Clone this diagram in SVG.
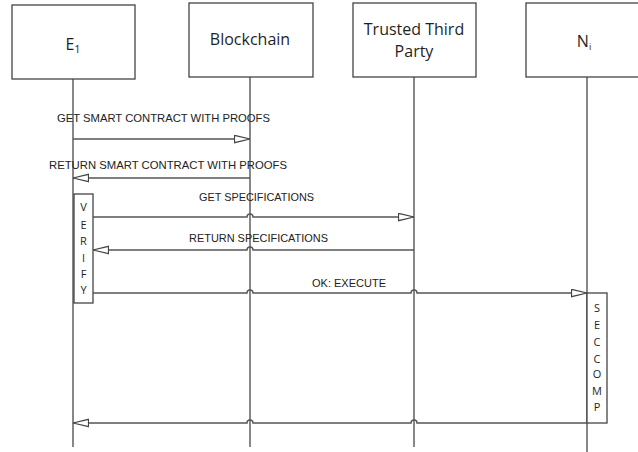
<svg xmlns="http://www.w3.org/2000/svg" width="638" height="452" viewBox="0 0 638 452">
<style>
.box{fill:#fff;stroke:#444;stroke-width:1.3}
.life{stroke:#555;stroke-width:1.4;fill:none}
.msg{stroke:#555;stroke-width:1.4;fill:none}
.title{font-family:"Open Sans","Liberation Sans",sans-serif;font-size:16px;fill:#1f1f1f;text-anchor:middle}
.lbl{font-family:"Liberation Sans",sans-serif;font-size:11px;fill:#222}
.act{font-family:"Open Sans","Liberation Sans",sans-serif;font-size:11px;fill:#1f1f1f;text-anchor:middle}
</style>
<defs>
<marker id="arr" markerUnits="userSpaceOnUse" markerWidth="18" markerHeight="10" refX="16" refY="4.5" orient="auto-start-reverse">
<path d="M0.5,0.8 L16,4.5 L0.5,8.2 Z" fill="#fff" stroke="#444" stroke-width="1.2"/>
</marker>
</defs>
<g id="lifelines">
<line class="life" x1="73" y1="79" x2="73" y2="447"/>
<line class="life" x1="250" y1="77" x2="250" y2="447"/>
<line class="life" x1="414" y1="77" x2="414" y2="447"/>
<line class="life" x1="587" y1="77" x2="587" y2="452"/>
</g>
<g id="E1">
<rect class="box" x="12" y="5" width="123" height="74"/>
<text class="title" x="73" y="50">E<tspan font-size="11" dy="3">1</tspan></text>
</g>
<g id="Blockchain">
<rect class="box" x="189" y="3" width="124" height="74"/>
<text class="title" x="250" y="45">Blockchain</text>
</g>
<g id="TTP">
<rect class="box" x="353" y="3" width="123" height="74"/>
<text class="title" x="414" y="35">Trusted Third</text>
<text class="title" x="414" y="57">Party</text>
</g>
<g id="Ni">
<rect class="box" x="526" y="3" width="125" height="74"/>
<text class="title" x="584" y="47">N<tspan font-size="9" dy="3">i</tspan></text>
</g>
<g id="verify">
<rect class="box" x="74" y="194" width="19" height="109"/>
<text class="act" x="83.5" y="211">V</text>
<text class="act" x="83.5" y="229">E</text>
<text class="act" x="83.5" y="245">R</text>
<text class="act" x="83.5" y="262">I</text>
<text class="act" x="83.5" y="278">F</text>
<text class="act" x="83.5" y="294">Y</text>
</g>
<g id="seccomp">
<rect class="box" x="587" y="293" width="20" height="130"/>
<text class="act" x="597" y="312">S</text>
<text class="act" x="597" y="329">E</text>
<text class="act" x="597" y="346">C</text>
<text class="act" x="597" y="363">C</text>
<text class="act" x="597" y="378">O</text>
<text class="act" x="597" y="395">M</text>
<text class="act" x="597" y="411">P</text>
</g>
<g id="connectors">
<path class="msg" d="M73,139 H250" marker-end="url(#arr)"/>
<path class="msg" d="M73,178 H250" marker-start="url(#arr)"/>
<path class="msg" d="M93,217 H247 a3,3 0 0 1 6,0 H414" marker-end="url(#arr)"/>
<path class="msg" d="M93,250 H247 a3,3 0 0 1 6,0 H414" marker-start="url(#arr)"/>
<path class="msg" d="M93,293 H247 a3,3 0 0 1 6,0 H411 a3,3 0 0 1 6,0 H587" marker-end="url(#arr)"/>
<path class="msg" d="M73,423 H247 a3,3 0 0 1 6,0 H411 a3,3 0 0 1 6,0 H587" marker-start="url(#arr)"/>
</g>
<g id="labels">
<text class="lbl" x="57" y="122" textLength="213" lengthAdjust="spacingAndGlyphs">GET SMART CONTRACT WITH PROOFS</text>
<text class="lbl" x="49" y="169" textLength="238" lengthAdjust="spacingAndGlyphs">RETURN SMART CONTRACT WITH PROOFS</text>
<text class="lbl" x="199" y="201" textLength="115" lengthAdjust="spacingAndGlyphs">GET SPECIFICATIONS</text>
<text class="lbl" x="189" y="242" textLength="139" lengthAdjust="spacingAndGlyphs">RETURN SPECIFICATIONS</text>
<text class="lbl" x="312" y="287" textLength="74" lengthAdjust="spacingAndGlyphs">OK: EXECUTE</text>
</g>
</svg>
